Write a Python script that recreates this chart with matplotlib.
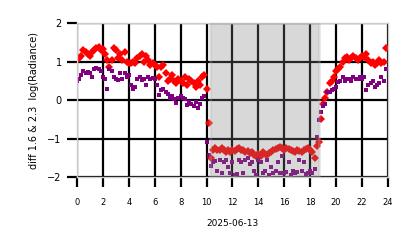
import matplotlib
matplotlib.use("Agg")
import matplotlib.pyplot as plt
import numpy as np

# hours of day, 10-minute steps
hours = np.arange(144) / 6.0

red_diff = [
    1.05, 1.1, 1.15, 1.3, 1.25, 1.2, 1.15, 1.25, 1.3, 1.35, 1.38, 1.3,
    1.32, 1.2, 1.05, 0.85, 1.05, 1.35, 1.3, 1.1, 1.2, 1.05, 1.25, 1.0,
    0.95, 0.95, 1.0, 0.95, 1.1, 1.15, 1.2, 1.0, 1.15, 1.05, 0.9, 0.95,
    0.9, 0.85, 0.6, 0.85, 0.9, 0.7, 0.5, 0.55, 0.65, 0.5, 0.45, 0.55,
    0.5, 0.45, 0.6, 0.4, 0.55, 0.5, 0.45, 0.35, 0.5, 0.4, 0.6, 0.65,
    0.3, -0.6, -1.5, -1.3, -1.25, -1.3, -1.3, -1.25, -1.3, -1.35, -1.3, -1.35,
    -1.3, -1.32, -1.28, -1.25, -1.3, -1.3, -1.35, -1.32, -1.38, -1.35, -1.42, -1.45,
    -1.4, -1.45, -1.35, -1.4, -1.42, -1.38, -1.35, -1.3, -1.28, -1.25, -1.22, -1.25,
    -1.3, -1.25, -1.28, -1.3, -1.32, -1.35, -1.3, -1.32, -1.35, -1.3, -1.28, -1.25,
    -1.3, -1.35, -1.5, -1.2, -1.1, -0.5, -0.1, 0.05, 0.2, 0.45, 0.5, 0.6,
    0.75, 0.8, 0.85, 1.0, 1.1, 1.12, 1.05, 1.1, 1.15, 1.1, 1.05, 1.1,
    1.15, 1.12, 1.2, 1.05, 0.95, 1.0, 0.9, 0.95, 1.05, 0.95, 1.0, 1.35,
]

purple_diff = [
    0.5, 0.55, 0.65, 0.75, 0.7, 0.72, 0.7, 0.6, 0.8, 0.82, 0.8, 0.75,
    0.6, 0.55, 0.3, 0.8, 0.75, 0.6, 0.55, 0.52, 0.7, 0.55, 0.7, 0.6,
    0.65, 0.4, 0.3, 0.35, 0.55, 0.6, 0.52, 0.55, 0.4, 0.6, 0.55, 0.58,
    0.55, 0.38, 0.13, 0.25, 0.3, 0.2, 0.15, 0.05, 0.1, 0.04, -0.07, 0.05,
    0.1, 0.05, 0.04, -0.12, -0.05, -0.1, -0.15, -0.05, -0.2, -0.1, 0.05, 0.1,
    -1.1, -1.43, -1.7, -1.6, -1.58, -1.85, -1.55, -1.9, -1.6, -1.55, -1.75, -1.9,
    -1.6, -1.95, -1.92, -1.55, -1.6, -1.9, -1.55, -1.5, -1.65, -1.6, -1.85, -1.95,
    -1.55, -1.6, -1.9, -1.85, -1.55, -1.95, -1.75, -1.9, -1.85, -1.6, -1.9, -1.45,
    -1.9, -1.88, -1.6, -1.95, -1.85, -1.9, -1.88, -1.55, -1.85, -1.6, -1.92, -1.9,
    -1.85, -1.9, -1.8, -0.95, -0.52, -0.3, -0.15, -0.09, 0.2, 0.22, 0.25, 0.3,
    0.35, 0.47, 0.5, 0.6, 0.5, 0.55, 0.55, 0.5, 0.6, 0.55, 0.55, 0.6,
    0.55, 0.6, 0.26, 0.4, 0.45, 0.5, 0.35, 0.4, 0.45, 0.6, 0.5, 0.8,
]

night_start = 10.3
night_end = 18.7
x_ticks = list(range(0, 25, 2))
y_ticks = [-2, -1, 0, 1, 2]

fig = plt.figure(figsize=(4.14, 2.48), dpi=100)
ax = fig.add_axes([0.186, 0.286, 0.751, 0.621])

ax.plot(hours, red_diff, linestyle="none", marker="D", markersize=4.0,
        color="red", markeredgewidth=0, zorder=2)
ax.plot(hours, purple_diff, linestyle="none", marker="s", markersize=2.9,
        color="purple", markeredgewidth=0, zorder=2)
ax.axvspan(night_start, night_end, facecolor="gray", alpha=0.3,
           edgecolor="#b0b0b0", linewidth=2.0, zorder=3)

ax.set_xlim(0, 24)
ax.set_ylim(-2, 2)
ax.set_xticks(x_ticks)
ax.set_yticks(y_ticks)
ax.grid(True, color="black", linewidth=1.6, zorder=1)
ax.set_axisbelow(True)
ax.tick_params(axis="both", length=7, width=1.6, color="black")
ax.tick_params(axis="x", labelsize=6, pad=8)
ax.tick_params(axis="y", labelsize=7, pad=4)
for spine in ax.spines.values():
    spine.set_color("#cccccc")
    spine.set_linewidth(1.0)

ax.set_xlabel("2025-06-13", fontsize=6.5, labelpad=9)
ax.set_ylabel("diff 1.6 & 2.3  log(Radiance)", fontsize=7, labelpad=6)

fig.savefig("out.png", dpi=100)
